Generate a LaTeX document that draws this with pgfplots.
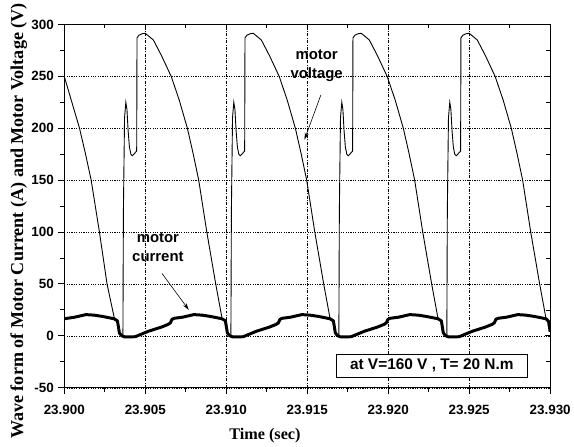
\documentclass[border=0pt]{standalone}
\usepackage{pgfplots}
\pgfplotsset{compat=1.18}
\usepackage{fontspec}
\usetikzlibrary{arrows.meta}
\newfontfamily\arialfont{Liberation Sans}
\newfontfamily\timesfont{Liberation Serif}

\begin{document}
\begin{tikzpicture}
\begin{axis}[
    scale only axis,
    width=489pt, height=365.7pt,
    xmin=0, xmax=30, ymin=-50, ymax=300,
    xtick={0,5,...,30},
    xticklabels={23.900,23.905,23.910,23.915,23.920,23.925,23.930},
    ytick={-50,0,...,300},
    minor x tick num=1, minor y tick num=1,
    xtick pos=bottom, ytick pos=left,
    tick align=outside,
    major tick length=6pt, minor tick length=4pt,
    axis line style={line width=1.2pt},
    every tick/.style={black, line width=1pt},
    /pgf/number format/assume math mode=true,
    ticklabel style={font=\arialfont\bfseries\fontsize{13.5}{15}\selectfont},
    xticklabel style={yshift=-8pt},
    yticklabel style={xshift=-1pt},
    xmajorgrids, ymajorgrids,
    major x grid style={black, line width=0.6pt, dash pattern=on 3pt off 1.5pt on 0.8pt off 1.5pt},
    major y grid style={black, line width=0.6pt, dash pattern=on 1.2pt off 1.2pt},
    xlabel={Time (sec)},
    ylabel={Wave form of Motor Current (A) and Motor Voltage (V)},
    xlabel style={font=\timesfont\bfseries\fontsize{16.3}{18}\selectfont, at={(ticklabel cs:0.413)}, yshift=-7pt},
    ylabel style={font=\timesfont\bfseries\fontsize{18.2}{20}\selectfont, at={(ticklabel cs:0.459)}, yshift=-2.5pt},
]
% motor voltage (x in ms after 23.900 s)
\addplot[black, line width=0.9pt] coordinates {
(0,250) (0.45,226) (0.94,200) (1.3,176) (1.66,150) (2.17,100) (2.64,50) (3.09,17)
(3.28,14.5) (3.35,8) (3.4,3) (3.53,0) (3.62,0)
(3.65,120) (3.72,210) (3.80,225) (3.87,218) (3.94,198) (4.02,182) (4.11,175) (4.20,173.5)
(4.32,175.5) (4.47,178) (4.49,287) (4.60,289.5) (4.80,291) (5.00,291.5) (5.5,285) (6.0,270)
(6.6,250) (7.1,227) (7.6,200) (7.95,176) (8.3,150) (8.8,100) (9.35,50) (9.74,17)
(9.947,14.5) (10.017,8) (10.067,3) (10.197,0) (10.287,0)
(10.317,120) (10.387,210) (10.467,225) (10.537,218) (10.607,198) (10.687,182) (10.777,175) (10.867,173.5)
(10.987,175.5) (11.137,178) (11.157,287) (11.267,289.5) (11.467,291) (11.667,291.5) (12.167,285) (12.667,270)
(13.267,250) (13.767,227) (14.267,200) (14.617,176) (14.967,150) (15.467,100) (16.017,50) (16.407,17)
(16.613,14.5) (16.683,8) (16.733,3) (16.863,0) (16.953,0)
(16.983,120) (17.053,210) (17.133,225) (17.203,218) (17.273,198) (17.353,182) (17.443,175) (17.533,173.5)
(17.653,175.5) (17.803,178) (17.823,287) (17.933,289.5) (18.133,291) (18.333,291.5) (18.833,285) (19.333,270)
(19.933,250) (20.433,227) (20.933,200) (21.283,176) (21.633,150) (22.133,100) (22.683,50) (23.073,17)
(23.28,14.5) (23.35,8) (23.4,3) (23.53,0) (23.62,0)
(23.65,120) (23.72,210) (23.80,225) (23.87,218) (23.94,198) (24.02,182) (24.11,175) (24.20,173.5)
(24.32,175.5) (24.47,178) (24.49,287) (24.60,289.5) (24.80,291) (25.0,291.5) (25.5,285) (26.0,270)
(26.6,250) (27.1,227) (27.6,200) (27.95,176) (28.3,150) (28.8,100) (29.35,50) (29.74,17)
(29.9,15) (30,5)
};
% motor current
\addplot[black, line width=3pt, line join=round] coordinates {
(0,16.5) (0.633,18) (1.333,20.5) (1.833,20) (2.333,18.8) (3.073,16.5)
(3.28,14.5) (3.35,8) (3.4,3) (3.53,0.3) (3.73,-1) (4.38,-0.8) (4.58,0.5) (5.2,4.5)
(6.0,8.5) (6.4,11) (6.55,12.5) (6.65,16) (6.8,17) (7.3,18) (8.0,20.5) (8.5,20) (9.0,18.8) (9.74,16.5)
(9.947,14.5) (10.017,8) (10.067,3) (10.197,0.3) (10.397,-1) (11.047,-0.8) (11.247,0.5) (11.867,4.5)
(12.667,8.5) (13.067,11) (13.217,12.5) (13.317,16) (13.467,17) (13.967,18) (14.667,20.5) (15.167,20) (15.667,18.8) (16.407,16.5)
(16.613,14.5) (16.683,8) (16.733,3) (16.863,0.3) (17.063,-1) (17.713,-0.8) (17.913,0.5) (18.533,4.5)
(19.333,8.5) (19.733,11) (19.883,12.5) (19.983,16) (20.133,17) (20.633,18) (21.333,20.5) (21.833,20) (22.333,18.8) (23.073,16.5)
(23.28,14.5) (23.35,8) (23.4,3) (23.53,0.3) (23.73,-1) (24.38,-0.8) (24.58,0.5) (25.2,4.5)
(26.0,8.5) (26.4,11) (26.55,12.5) (26.65,16) (26.8,17) (27.3,18) (28.0,20.5) (28.5,20) (29.0,18.8) (29.74,16.5)
(29.9,14) (30,4)
};
\node[font=\arialfont\bfseries\fontsize{15}{16}\selectfont, align=center] at (axis cs:15.58,260) {motor\\[3pt]voltage};
\draw[-{Stealth[length=7pt,width=4pt]}, line width=0.6pt] (axis cs:15.84,232) -- (axis cs:14.83,189);
\node[font=\arialfont\bfseries\fontsize{15}{16}\selectfont, align=center] at (axis cs:5.78,85) {motor\\[3pt]current};
\draw[-{Stealth[length=7pt,width=4pt]}, line width=0.6pt] (axis cs:6.04,60) -- (axis cs:7.69,25);
\node[draw, line width=0.8pt, fill=white, minimum width=192pt, minimum height=23pt, inner sep=0pt,
      font=\arialfont\bfseries\fontsize{15.5}{17}\selectfont] at (axis cs:22.69,-28.5) {at V=160 V , T= 20 N.m};
\end{axis}
\path ([xshift=-64.7pt,yshift=-55pt]current axis.south west) rectangle ([xshift=21pt,yshift=24.3pt]current axis.north east);
\begin{axis}[
    scale only axis,
    width=489pt, height=365.7pt,
    xmin=0, xmax=30, ymin=-50, ymax=300,
    xtick={0,5,...,30}, ytick={-50,0,...,300},
    minor x tick num=1, minor y tick num=1,
    axis x line*=top, axis y line*=right,
    tick align=inside,
    major tick length=5pt, minor tick length=4pt,
    axis line style={line width=1.2pt},
    every tick/.style={black, line width=0.8pt},
    xticklabels={}, yticklabels={},
]
\end{axis}
\end{tikzpicture}
\end{document}
